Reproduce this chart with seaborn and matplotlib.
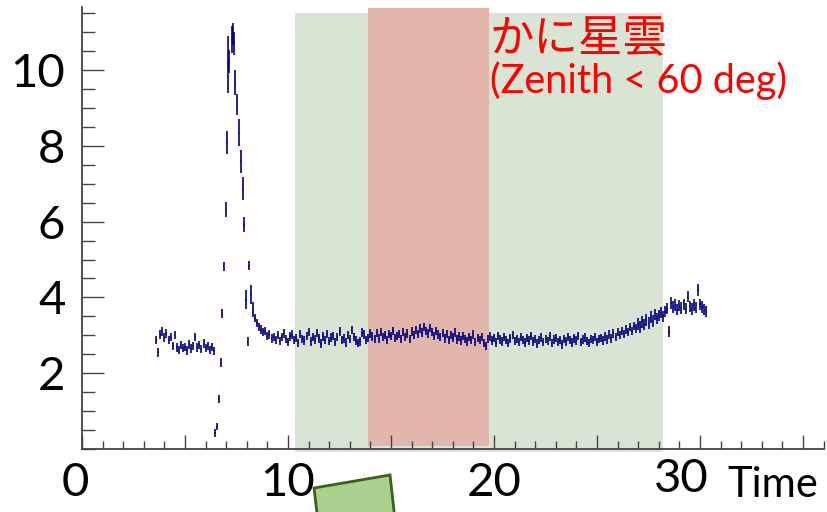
import numpy as np
import pandas as pd
import matplotlib
matplotlib.use("Agg")
import matplotlib.pyplot as plt
import matplotlib.transforms as mtransforms
from matplotlib.patches import Polygon
from matplotlib.ticker import MultipleLocator, FixedLocator
import seaborn as sns

# ---- data ----
bin_step = 0.1
bin_half = 0.03

# flat part before the flare
pre_start = 3.6
pre_y = [2.88, 2.55, 3.02, 3.10, 2.94, 3.05, 2.88, 2.96, 2.72, 3.00, 2.68,
         2.62, 2.74, 2.66, 2.70, 2.60, 2.76, 2.65, 2.72, 2.95, 2.68,
         2.74, 2.63, 2.78, 2.67, 2.71, 2.61, 2.69, 2.58]
pre_err = 0.11

# the flare itself
peak_x = [6.46, 6.54, 6.64, 6.73, 6.81, 6.88, 6.97, 7.02, 7.09, 7.15,
          7.26, 7.32, 7.38, 7.44, 7.54, 7.61, 7.70, 7.80, 7.86, 7.96,
          8.04, 8.09, 8.18, 8.28]
peak_y = [0.42, 0.59, 1.32, 2.28, 3.57, 4.82, 6.31, 8.08, 10.15, 10.23,
          10.80, 10.95, 10.70, 9.67, 9.09, 8.35, 7.59, 6.87, 5.92, 3.94,
          2.83, 4.83, 4.07, 3.67]
peak_err = [0.10, 0.10, 0.10, 0.12, 0.12, 0.12, 0.20, 0.30, 0.75, 0.30,
            0.35, 0.30, 0.30, 0.32, 0.27, 0.35, 0.30, 0.30, 0.20, 0.25,
            0.12, 0.12, 0.25, 0.20]

# after the flare
post_start = 8.4
post_y = [3.45, 3.32, 3.22, 3.15, 3.08, 3.12, 2.98, 3.02, 2.92, 2.96,
          2.88, 3.00, 2.85, 2.95, 3.05, 2.90, 2.82, 2.97, 3.02, 2.88,
          2.93, 2.80, 3.04, 2.91, 2.86, 2.99, 3.08, 2.84, 2.95, 2.89,
          3.06, 2.92, 2.78, 2.97, 2.88, 3.03, 2.85, 2.94, 2.99, 2.83,
          2.96, 3.10, 2.87, 2.92, 2.81, 3.00, 2.90, 3.14, 2.95, 2.86,
          2.79, 2.84, 3.07, 3.02, 2.88, 2.93, 3.05, 2.97, 2.90, 3.06,
          2.92, 3.09, 2.96, 3.01, 2.87, 3.04, 2.98, 3.12, 2.93, 2.99,
          3.03, 2.90, 3.08, 2.95, 3.05, 2.91, 3.10, 3.00, 3.14, 3.04,
          3.18, 3.07, 3.22, 3.12, 3.05, 3.19, 3.09, 2.98, 3.11, 3.02,
          2.95, 3.06, 2.92, 3.03, 2.88, 3.00, 2.94, 3.07, 2.89, 2.97,
          2.86, 2.99, 2.91, 2.84, 2.96, 2.88, 3.02, 2.83, 2.93, 2.87,
          2.95, 2.80, 2.72, 2.90, 2.97, 2.86, 2.93, 2.81, 2.98, 2.89,
          2.84, 2.95, 2.87, 2.79, 2.92, 3.01, 2.85, 2.90, 2.83, 2.96,
          2.88, 2.81, 2.93, 2.86, 2.99, 2.84, 2.91, 2.78, 2.87, 2.94,
          2.82, 2.90, 2.85, 2.97, 2.80, 2.89, 2.93, 2.83, 2.88, 2.76,
          2.91, 2.84, 2.95, 2.87, 2.81, 2.92, 2.86, 2.98, 2.83, 2.89,
          2.94, 2.85, 2.79, 2.91, 2.87, 2.96, 2.82, 2.90, 2.93, 2.86,
          2.97, 2.89, 3.02, 2.92, 3.05, 2.95, 3.08, 3.00, 3.12, 3.04,
          3.15, 3.08, 3.22, 3.12, 3.25, 3.18, 3.30, 3.22, 3.35, 3.28,
          3.40, 3.32, 3.48, 3.38, 3.55, 3.45, 3.52, 3.60, 3.50, 3.62,
          3.70, 3.10, 3.85, 3.75, 3.80, 3.68, 3.78, 3.72, 3.82, 3.70,
          4.02, 3.76, 3.69, 3.80, 3.73, 4.20, 3.82, 3.75, 3.68, 3.62]
post_err = 0.11
tail_err = 0.15
tail_from = 27.0

green_band = (10.34, 28.2)
red_band = (13.9, 19.76)

x_ticks = [0, 10, 20, 30]
y_ticks = [2, 4, 6, 8, 10]

# ---- assemble ----
pre_x = pre_start + bin_step * np.arange(len(pre_y))
post_x = post_start + bin_step * np.arange(len(post_y))
post_e = np.where(post_x < tail_from, post_err, tail_err)

df = pd.DataFrame({
    "x": np.concatenate([pre_x, peak_x, post_x]),
    "y": np.concatenate([pre_y, peak_y, post_y]),
    "err": np.concatenate([np.full(len(pre_y), pre_err), peak_err, post_e]),
})

sns.set_theme(style="ticks")
plt.rcParams["font.family"] = ["Lato", "Noto Sans CJK JP", "DejaVu Sans"]
plt.rcParams["font.weight"] = "normal"

W, H = 827, 512
fig = plt.figure(figsize=(W / 100, H / 100), dpi=100)
fig.patch.set_facecolor("white")

ax = fig.add_axes([82 / W, 63 / H, 741.6 / W, 442 / H])
ax.set_facecolor("none")
ax.set_xlim(0, 36)
ax.set_ylim(0, 442 / 37.9)

# shaded windows
ax.axvspan(*green_band, ymin=-0.007, ymax=0.986, color="#dae4d4", lw=0,
           zorder=0, clip_on=False)
ax.axvspan(*red_band, ymin=0.007, ymax=0.998, color="#e2b6aa", lw=0,
           zorder=0.5, clip_on=False)

ax.errorbar(df["x"], df["y"], yerr=df["err"], xerr=bin_half, fmt="none",
            ecolor="#000080", elinewidth=1.4, alpha=0.85, zorder=2)

# axes style (ROOT-like)
sns.despine(ax=ax, top=True, right=True)
for s in ["left", "bottom"]:
    ax.spines[s].set_color("#444444")
    ax.spines[s].set_linewidth(1.3)

ax.xaxis.set_major_locator(MultipleLocator(5))
ax.xaxis.set_minor_locator(MultipleLocator(1))
ax.set_xticklabels([str(int(t)) if t in x_ticks else "" for t in ax.get_xticks()])
ax.yaxis.set_major_locator(FixedLocator(y_ticks))
ax.yaxis.set_minor_locator(MultipleLocator(0.5))
ax.set_yticklabels([str(t) for t in y_ticks])

ax.tick_params(axis="x", which="major", direction="in", length=10, width=1,
               color="#444444", labelcolor="black", labelsize=34, pad=9)
ax.tick_params(axis="x", which="minor", direction="in", length=5.5, width=1,
               color="#444444")
ax.tick_params(axis="y", which="major", direction="in", length=16, width=1,
               color="#444444", labelcolor="black", labelsize=34, pad=12)
ax.tick_params(axis="y", which="minor", direction="in", length=9, width=1,
               color="#444444")

# nudge the "0" and "30" labels like in the original
for lab, t in zip(ax.get_xticklabels(), ax.get_xticks()):
    if t == 30:
        lab.set_transform(lab.get_transform() +
                          mtransforms.ScaledTranslation(-0.19, 0.03, fig.dpi_scale_trans))
    if t == 0:
        lab.set_transform(lab.get_transform() +
                          mtransforms.ScaledTranslation(-0.07, 0, fig.dpi_scale_trans))

fig.text(818 / W, 1 - 497 / H, "Time", ha="right", va="baseline", fontsize=30,
         color="black")

fig.text(490 / W, 1 - 52 / H, "かに星雲", color="red", fontsize=32,
         family=["Noto Sans CJK JP", "DejaVu Sans"], va="baseline")
fig.text(490 / W, 1 - 93 / H, "(Zenith < 60 deg)", color="red", fontsize=28.5,
         va="baseline")

# decorative green box peeking from the bottom
box = Polygon([[314 / W, 1 - 488 / H], [390 / W, 1 - 475 / H],
               [397 / W, -0.05], [320 / W, -0.05]],
              closed=True, transform=fig.transFigure, facecolor="#a9d18e",
              edgecolor="#3b5e21", linewidth=2)
fig.add_artist(box)

fig.savefig("out.png", dpi=100)
